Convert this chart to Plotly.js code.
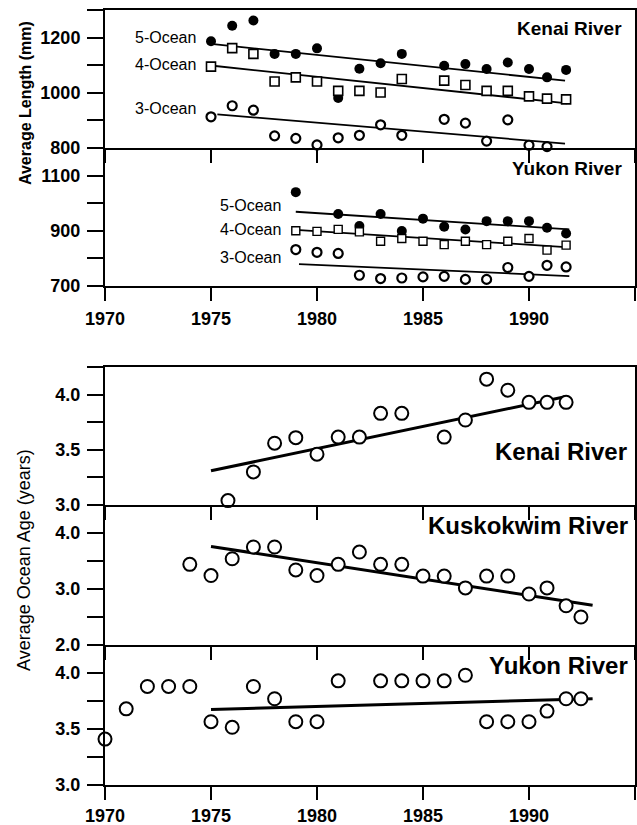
<!DOCTYPE html>
<html>
<head>
<meta charset="utf-8">
<script src="https://cdn.plot.ly/plotly-3.0.1.min.js"></script>
<style>html,body{margin:0;padding:0;background:#fff;}#chart{width:637px;height:825px;}</style>
</head>
<body>
<div id="chart"></div>
<script>
// ---------- DATA ----------
// Panel 1: Kenai River average length (mm)
var kenaiLenYears = [1975,1976,1977,1978,1979,1980,1981,1982,1983,1984,1986,1987,1988,1989,1990,1990.85,1991.75];
var kenaiLen5 = [1187,1243,1262,1141,1141,1161,981,1087,1107,1141,1098,1104,1086,1110,1086,1056,1083];
var kenaiLen4 = [1095,1162,1141,1041,1056,1041,1007,1007,1001,1050,1044,1028,1007,1007,987,979,976];
var kenaiLen3 = [913,953,937,844,835,811,837,846,884,846,904,890,825,902,810,805,789];
var kenaiLenTrendX5 = [1975,1991.7], kenaiLenTrend5 = [1177,1044];
var kenaiLenTrendX4 = [1975.1,1991.8], kenaiLenTrend4 = [1098,962];
var kenaiLenTrendX3 = [1975.3,1991.7], kenaiLenTrend3 = [922,816];

// Panel 2: Yukon River average length (mm)
var yukonLen5Years = [1979,1981,1982,1983,1984,1985,1986,1987,1988,1989,1990,1990.85,1991.75];
var yukonLen5 = [1040,961,917,961,899,944,915,905,935,935,935,911,890];
var yukonLenYears = [1979,1980,1981,1982,1983,1984,1985,1986,1987,1988,1989,1990,1990.85,1991.75];
var yukonLen4 = [900,898,905,896,862,872,862,850,862,850,862,872,830,848];
var yukonLen3 = [832,822,818,739,727,729,733,735,724,724,767,735,775,769];
var yukonLenTrendX5 = [1979,1991.9], yukonLenTrend5 = [969,905];
var yukonLenTrendX4 = [1979,1991.9], yukonLenTrend4 = [903,840];
var yukonLenTrendX3 = [1979.15,1991.9], yukonLenTrend3 = [779,736];

// Panel 3: Kenai River average ocean age (years)
var kenaiAgeYears = [1975.8,1977,1978,1979,1980,1981,1982,1983,1984,1986,1987,1988,1989,1990,1990.85,1991.75];
var kenaiAge = [3.04,3.30,3.56,3.61,3.46,3.615,3.615,3.83,3.83,3.615,3.77,4.14,4.04,3.93,3.93,3.93];
var kenaiAgeTrendX = [1975,1991.7], kenaiAgeTrend = [3.31,3.98];

// Panel 4: Kuskokwim River average ocean age (years)
var kuskAgeYears = [1974,1975,1976,1977,1978,1979,1980,1981,1982,1983,1984,1985,1986,1987,1988,1989,1990,1990.85,1991.75,1992.45];
var kuskAge = [3.44,3.24,3.54,3.75,3.75,3.34,3.24,3.44,3.66,3.44,3.44,3.23,3.23,3.02,3.23,3.23,2.91,3.02,2.70,2.50];
var kuskAgeTrendX = [1975,1993], kuskAgeTrend = [3.76,2.71];

// Panel 5: Yukon River average ocean age (years)
var yukonAgeYears = [1970,1971,1972,1973,1974,1975,1976,1977,1978,1979,1980,1981,1983,1984,1985,1986,1987,1988,1989,1990,1990.85,1991.75,1992.45];
var yukonAge = [3.41,3.68,3.88,3.88,3.88,3.565,3.515,3.88,3.77,3.565,3.565,3.93,3.93,3.93,3.93,3.93,3.98,3.565,3.565,3.565,3.66,3.77,3.77];
var yukonAgeTrendX = [1975,1993], yukonAgeTrend = [3.675,3.77];

// Tick labels
var yearTicks = [1970,1975,1980,1985,1990,1995];
var yearTickText = ['1970','1975','1980','1985','1990',''];
var kenaiLenTicks = [800,900,1000,1100,1200,1300];
var kenaiLenTickText = ['800','','1000','','1200',''];
var yukonLenTicks = [700,800,900,1000,1100,1200];
var yukonLenTickText = ['700','','900','','1100',''];
var age125Ticks = [3.0,3.25,3.5,3.75,4.0,4.25];
var age125TickText = ['3.0','','3.5','','4.0',''];
var kuskTicks = [2.0,2.5,3.0,3.5,4.0,4.5];
var kuskTickText = ['2.0','','3.0','','4.0',''];

// ---------- STYLES ----------
var FONT = 'Liberation Sans, Arial, Helvetica, sans-serif';
function trend(x, y, xa, ya, w) {
  return {x: x, y: y, xaxis: xa, yaxis: ya, type: 'scatter', mode: 'lines',
          line: {color: '#000', width: w}, hoverinfo: 'skip', showlegend: false};
}
function pts(x, y, xa, ya, sym, size, fill, lw) {
  return {x: x, y: y, xaxis: xa, yaxis: ya, type: 'scatter', mode: 'markers', cliponaxis: false,
          marker: {symbol: sym, size: size, color: fill, line: {color: '#000', width: lw}},
          showlegend: false};
}

var traces = [
  trend(kenaiLenTrendX5, kenaiLenTrend5, 'x', 'y', 1.8),
  trend(kenaiLenTrendX4, kenaiLenTrend4, 'x', 'y', 1.8),
  trend(kenaiLenTrendX3, kenaiLenTrend3, 'x', 'y', 1.8),
  pts(kenaiLenYears, kenaiLen5, 'x', 'y', 'circle', 10, '#000', 0),
  pts(kenaiLenYears, kenaiLen4, 'x', 'y', 'square', 9, '#fff', 1.6),
  pts(kenaiLenYears, kenaiLen3, 'x', 'y', 'circle', 9, '#fff', 2.2),

  trend(yukonLenTrendX5, yukonLenTrend5, 'x2', 'y2', 1.8),
  trend(yukonLenTrendX4, yukonLenTrend4, 'x2', 'y2', 1.8),
  trend(yukonLenTrendX3, yukonLenTrend3, 'x2', 'y2', 1.8),
  pts(yukonLen5Years, yukonLen5, 'x2', 'y2', 'circle', 10, '#000', 0),
  pts(yukonLenYears, yukonLen4, 'x2', 'y2', 'square', 8, '#fff', 1.4),
  pts(yukonLenYears, yukonLen3, 'x2', 'y2', 'circle', 9, '#fff', 2.2),

  trend(kenaiAgeTrendX, kenaiAgeTrend, 'x3', 'y3', 3),
  pts(kenaiAgeYears, kenaiAge, 'x3', 'y3', 'circle', 13, '#fff', 2),

  trend(kuskAgeTrendX, kuskAgeTrend, 'x4', 'y4', 3),
  pts(kuskAgeYears, kuskAge, 'x4', 'y4', 'circle', 13, '#fff', 2),

  trend(yukonAgeTrendX, yukonAgeTrend, 'x5', 'y5', 3),
  pts(yukonAgeYears, yukonAge, 'x5', 'y5', 'circle', 13, '#fff', 2)
];

var tickFont = {family: FONT, size: 18, color: '#000', weight: 'bold'};
function xAxis(anchor, labels, mirror, standoff) {
  return {domain: [105/637, 635/637], range: [1970, 1995], anchor: anchor,
          showgrid: false, zeroline: false, showline: true, mirror: mirror,
          linecolor: '#000', linewidth: 2, ticks: 'outside', ticklen: 13, tickwidth: 2,
          tickcolor: '#000', tickvals: yearTicks, ticktext: yearTickText,
          showticklabels: labels, tickfont: tickFont, ticklabelstandoff: standoff};
}
function yAxis(anchor, top, bottom, range, tv, tt) {
  return {domain: [1 - bottom/825, 1 - top/825], range: range, anchor: anchor,
          showgrid: false, zeroline: false, showline: true, mirror: true,
          linecolor: '#000', linewidth: 2, ticks: 'outside', ticklen: 16, tickwidth: 2,
          tickcolor: '#000', tickvals: tv, ticktext: tt, tickfont: tickFont, ticklabelstandoff: 3};
}

function lab(text, x, y, xa, ya, size, bold) {
  return {text: text, x: x, y: y, xref: xa, yref: ya, xanchor: 'right', yanchor: 'middle',
          showarrow: false, font: {family: FONT, size: size, color: '#000', weight: bold ? 'bold' : 'normal'}};
}

var layout = {
  width: 637, height: 825,
  margin: {l: 0, r: 0, t: 0, b: 0},
  paper_bgcolor: '#fff', plot_bgcolor: '#fff',
  showlegend: false,
  xaxis: xAxis('y', false, true, 0),
  xaxis2: xAxis('y2', true, false, 2),
  xaxis3: xAxis('y3', false, true, 0),
  xaxis4: xAxis('y4', false, false, 0),
  xaxis5: xAxis('y5', true, false, 0),
  yaxis: yAxis('x', 10, 148, [800, 1300], kenaiLenTicks, kenaiLenTickText),
  yaxis2: yAxis('x2', 148, 286, [700, 1200], yukonLenTicks, yukonLenTickText),
  yaxis3: yAxis('x3', 367, 505, [3.0, 4.25], age125Ticks, age125TickText),
  yaxis4: yAxis('x4', 505, 645, [2.0, 4.5], kuskTicks, kuskTickText),
  yaxis5: yAxis('x5', 645, 785, [3.0, 4.25], age125Ticks, age125TickText),
  annotations: [
    lab('5-Ocean', 1974.4, 1201, 'x', 'y', 16, false),
    lab('4-Ocean', 1974.4, 1104, 'x', 'y', 16, false),
    lab('3-Ocean', 1974.4, 942, 'x', 'y', 16, false),
    lab('Kenai River', 1994.5, 1233, 'x', 'y', 19, true),
    lab('5-Ocean', 1978.4, 991, 'x2', 'y2', 16, false),
    lab('4-Ocean', 1978.4, 906, 'x2', 'y2', 16, false),
    lab('3-Ocean', 1978.4, 803, 'x2', 'y2', 16, false),
    lab('Yukon River', 1994.5, 1124, 'x2', 'y2', 19, true),
    lab('Kenai River', 1994.7, 3.485, 'x3', 'y3', 24, true),
    lab('Kuskokwim River', 1994.75, 4.14, 'x4', 'y4', 24, true),
    lab('Yukon River', 1994.75, 4.07, 'x5', 'y5', 24, true),
    {text: 'Average Length (mm)', x: 25/637, y: 1 - 103/825, xref: 'paper', yref: 'paper',
     xanchor: 'center', yanchor: 'middle', textangle: -90, showarrow: false,
     font: {family: FONT, size: 16, color: '#000', weight: 'bold'}},
    {text: 'Average Ocean Age (years)', x: 24/637, y: 1 - 560/825, xref: 'paper', yref: 'paper',
     xanchor: 'center', yanchor: 'middle', textangle: -90, showarrow: false,
     font: {family: FONT, size: 18, color: '#000'}}
  ]
};

Plotly.newPlot('chart', traces, layout, {staticPlot: true, displayModeBar: false});
</script>
</body>
</html>
